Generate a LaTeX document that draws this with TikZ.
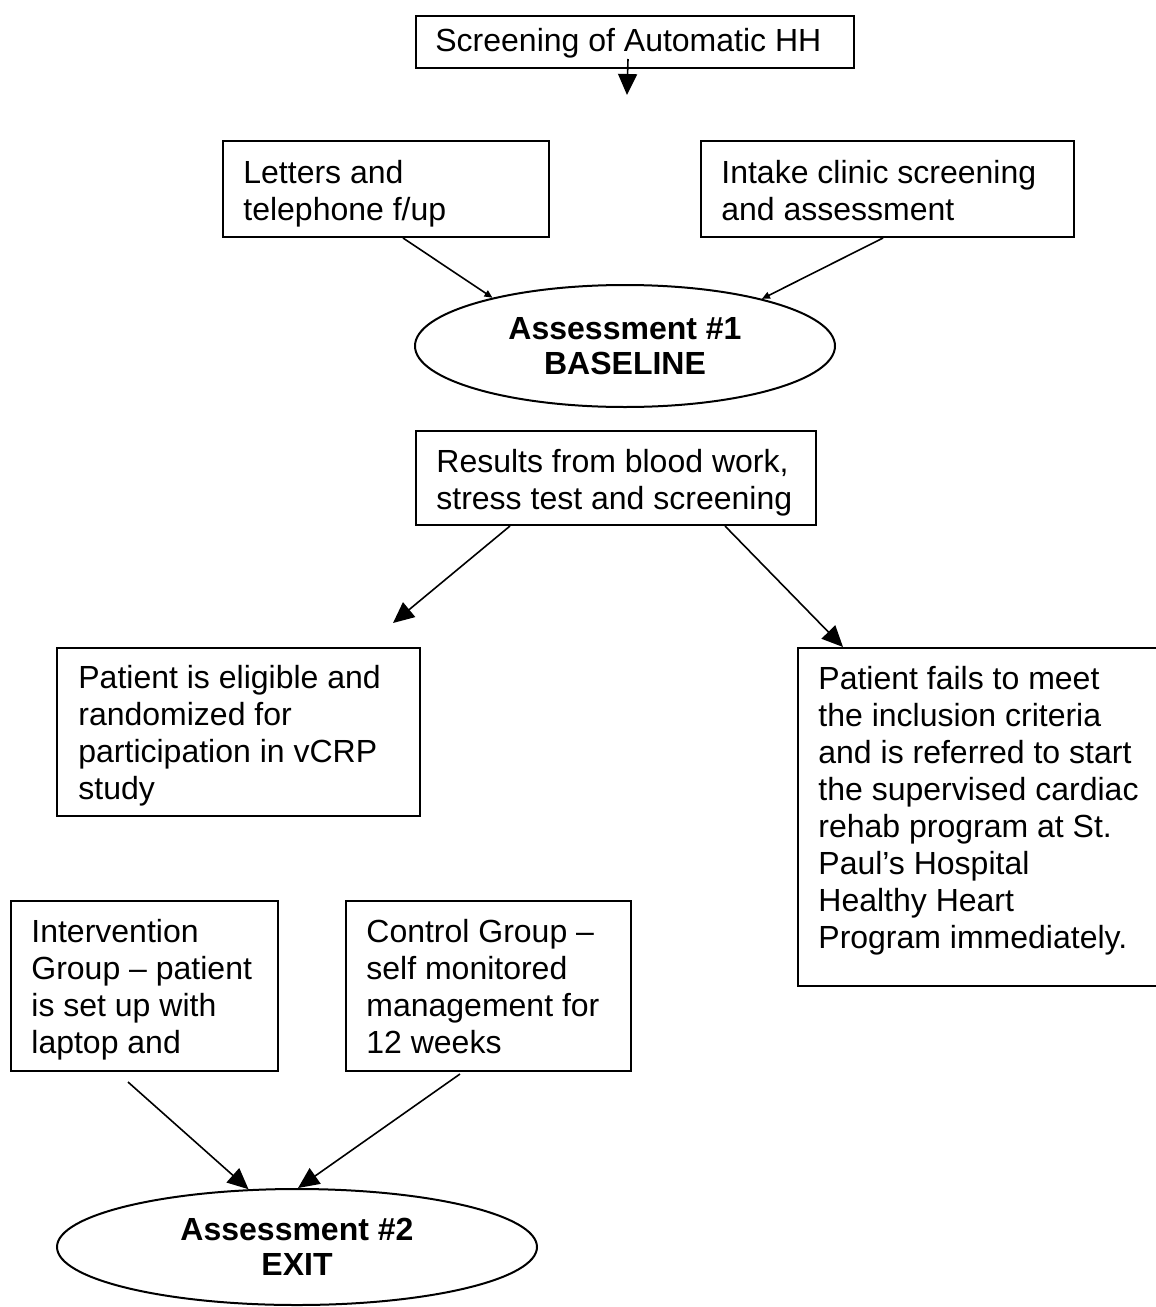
\documentclass[tikz,border=0pt]{standalone}
\usepackage{fontspec}
\setmainfont{Liberation Sans}
\usetikzlibrary{calc,arrows.meta,shapes.geometric}
\begin{document}
\begin{tikzpicture}[x=0.5pt,y=-0.5pt,
  box/.style={draw,line width=1pt,inner sep=0,anchor=north west},
  txt/.style={anchor=base west,inner sep=0,align=left,font=\fontsize{16pt}{18.5pt}\selectfont},
  oval/.style={draw,ellipse,line width=1pt,inner sep=0,align=center,font=\fontsize{16pt}{17.5pt}\selectfont\bfseries},
  big/.style={line width=0.8pt,-{Triangle[length=10.5pt,width=9.5pt]}},
  small/.style={line width=0.8pt,-{Triangle[length=4pt,width=3.5pt]}}]
\useasboundingbox (0,0) rectangle (1156,1307);

% boxes
\node[box,minimum width=219pt,minimum height=26pt] (screen) at (415,15) {};
\node[box,minimum width=163pt,minimum height=48pt] (letters) at (222,140) {};
\node[box,minimum width=186.5pt,minimum height=48pt] (intake) at (700,140) {};
\node[box,minimum width=200pt,minimum height=47pt] (results) at (415,430) {};
\node[box,minimum width=181.5pt,minimum height=84pt] (eligible) at (56,647) {};
\node[box,minimum width=186.5pt,minimum height=169pt] (fails) at (797,647) {};
\node[box,minimum width=133.5pt,minimum height=85pt] (interv) at (10,900) {};
\node[box,minimum width=142.5pt,minimum height=85pt] (control) at (345,900) {};

% texts (anchored at the baseline of the last line)
\node[txt] (screenT) at (435,51) {Screening of Automatic HH};
\node[txt] (lettersT) at (243,220) {Letters and\\telephone f/up};
\node[txt] (intakeT) at (721,220) {Intake clinic screening\\and assessment};
\node[txt] (resultsT) at (436,509) {Results from blood work,\\stress test and screening};
\node[txt] (eligibleT) at (78,799) {Patient is eligible and\\randomized for\\participation in vCRP\\study};
\node[txt] (failsT) at (818,948) {Patient fails to meet\\the inclusion criteria\\and is referred to start\\the supervised cardiac\\rehab program at St.\\Paul’s Hospital\\Healthy Heart\\Program immediately.};
\node[txt] (intervT) at (31,1053) {Intervention\\Group – patient\\is set up with\\laptop and};
\node[txt] (controlT) at (366,1053) {Control Group –\\self monitored\\management for\\12 weeks};

% ellipses
\node[oval,minimum width=210pt,minimum height=61pt] (base) at (625,346) {Assessment \#1\\BASELINE};
\node[oval,minimum width=240pt,minimum height=58pt] (exit) at (297,1247) {Assessment \#2\\EXIT};

% connectors
\coordinate (s1) at (627,95);
\draw[big] ($(screen.south)+(-7,-10)$) -- (s1);
\draw[small] ($(letters.south west)+(181,0)$) -- (base.160);
\draw[small] ($(intake.south west)+(183,0)$) -- (base.19);
\coordinate (elig0) at (393,623);
\draw[big] ($(results.south west)+(95,0)$) -- (elig0);
\draw[big] ($(results.south west)+(310,0)$) -- ($(fails.north west)+(46,0)$);
\draw[big] ($(interv.south west)+(118,10)$) -- (exit.130);
\draw[big] ($(control.south west)+(115,2)$) -- (exit.89);
\end{tikzpicture}
\end{document}
